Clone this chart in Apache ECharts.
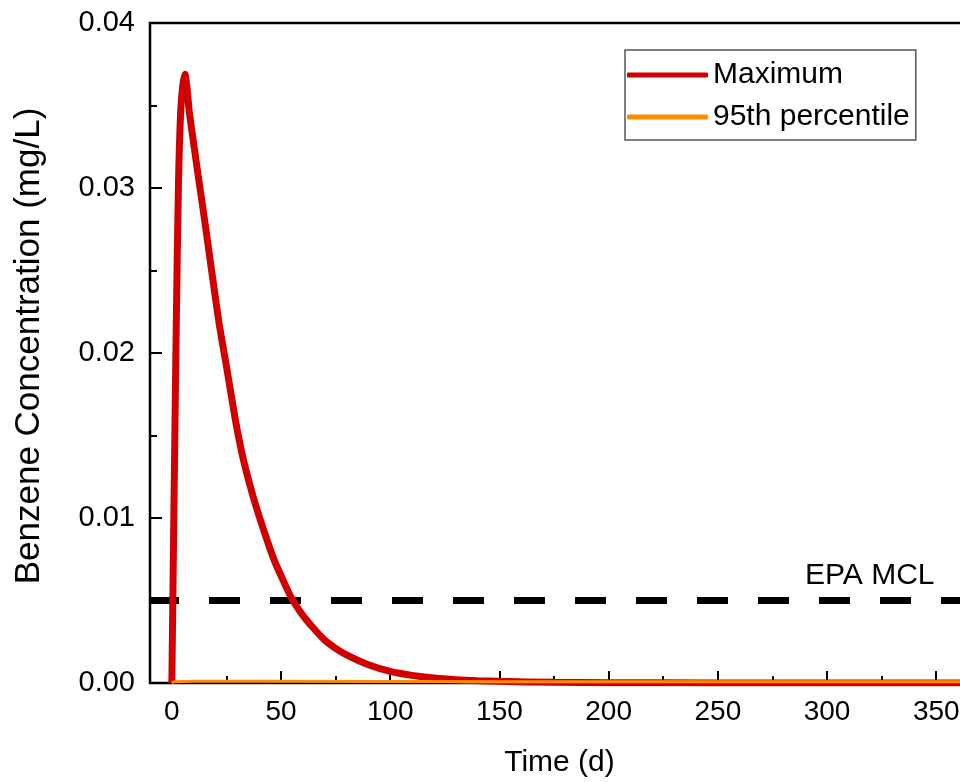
<!DOCTYPE html>
<html>
<head>
<meta charset="utf-8">
<script src="https://cdn.jsdelivr.net/npm/echarts@6/dist/echarts.min.js"></script>
<style>
html,body{margin:0;padding:0;background:#fff;}
#chart{width:960px;height:782px;}
</style>
</head>
<body>
<div id="chart"></div>
<script>
// ---- data ----
const maxDays = [0, 1, 2, 3, 4, 5, 6, 7, 8, 10, 12, 14, 16, 18, 20, 22, 25, 28, 30, 33, 37, 40, 44, 47, 50, 55, 60, 65, 70, 75, 80, 90, 100, 110, 120, 130, 140, 150, 175, 200, 250, 300, 365];
const maxVals = [0, 0.011, 0.0215, 0.030, 0.0345, 0.0362, 0.0369, 0.0360, 0.0346, 0.0327, 0.0308, 0.0290, 0.0271, 0.0252, 0.0233, 0.0215, 0.0192, 0.0168, 0.0153, 0.0134, 0.0114, 0.0101, 0.0085, 0.0074, 0.0065, 0.0051, 0.0041, 0.0033, 0.0026, 0.0021, 0.0017, 0.0011, 0.0007, 0.00046, 0.0003, 0.0002, 0.00014, 0.0001, 0.00004, 0.00002, 0.000005, 0.000001, 0];
const p95Days = [0, 1, 10, 40, 100, 150, 200, 250, 300, 365];
const p95Vals = [0, 0.00008, 0.0001, 0.0001, 0.00009, 0.00008, 0.00008, 0.00008, 0.00008, 0.00008];
const mclDays = [-10, 365];
const mclVals = [0.005, 0.005];
const seriesNames = ['Maximum', '95th percentile', 'EPA MCL'];
const xTitle = 'Time (d)';
const yTitle = 'Benzene Concentration (mg/L)';

const zip = (a, b) => a.map((v, i) => [v, b[i]]);
const FONT = '"Liberation Sans", Arial, Helvetica, sans-serif';

const chart = echarts.init(document.getElementById('chart'), null, {renderer: 'canvas'});
const axisCommon = {
  axisLine: {show: true, onZero: false, lineStyle: {color: '#000', width: 2}},
  axisTick: {show: true, inside: true, length: 12, lineStyle: {color: '#000', width: 2}},
  minorTick: {show: true, splitNumber: 2, length: 7, lineStyle: {color: '#000', width: 2}},
  splitLine: {show: false},
  minorSplitLine: {show: false}
};
chart.setOption({
  animation: false,
  backgroundColor: '#fff',
  grid: {left: 150, top: 23, right: -9, bottom: 99, containLabel: false, outerBoundsMode: 'none',
         show: true, borderColor: '#000', borderWidth: 2.5, backgroundColor: 'transparent'},
  legend: {
    orient: 'vertical', left: 625, top: 50, padding: [10, 6, 8, 2],
    itemWidth: 81, itemHeight: 5, itemGap: 12, icon: 'roundRect',
    borderColor: '#555', borderWidth: 1.5, backgroundColor: '#fff',
    textStyle: {fontSize: 30, color: '#000', fontFamily: FONT},
    data: [seriesNames[0], seriesNames[1]]
  },
  xAxis: Object.assign({
    type: 'value', min: -10, max: 365, splitNumber: 8,
    axisLabel: {fontSize: 28, color: '#000', margin: 15, fontFamily: FONT, showMinLabel: false, showMaxLabel: false},
    name: xTitle, nameLocation: 'middle', nameGap: 65,
    nameTextStyle: {fontSize: 30, color: '#000', fontFamily: FONT}
  }, axisCommon),
  yAxis: Object.assign({
    type: 'value', min: 0, max: 0.04, interval: 0.01,
    axisLabel: {fontSize: 29, color: '#000', margin: 15, fontFamily: FONT, formatter: v => v.toFixed(2)},
    name: yTitle, nameLocation: 'middle', nameGap: 103,
    nameTextStyle: {fontSize: 35, color: '#000', fontFamily: FONT, padding: [0, 0, 0, 14]}
  }, axisCommon),
  series: [
    {name: seriesNames[2], type: 'line', data: zip(mclDays, mclVals), symbol: 'none', z: 1,
     lineStyle: {color: '#000', width: 7, type: [31, 30], dashOffset: 2, cap: 'butt'}, silent: true},
    {name: seriesNames[0], type: 'line', data: zip(maxDays, maxVals), symbol: 'none', smooth: 0.25,
     color: '#D00000', lineStyle: {color: '#D00000', width: 7}, z: 3},
    {name: seriesNames[1], type: 'line', data: zip(p95Days, p95Vals), symbol: 'none',
     color: '#FF8C00', lineStyle: {color: '#FF8C00', width: 3}, z: 4}
  ],
  graphic: [
    {type: 'text', left: 805, top: 561, z: 10,
     style: {text: 'EPA MCL', fill: '#000', font: '30px ' + FONT}}
  ]
});
</script>
</body>
</html>
